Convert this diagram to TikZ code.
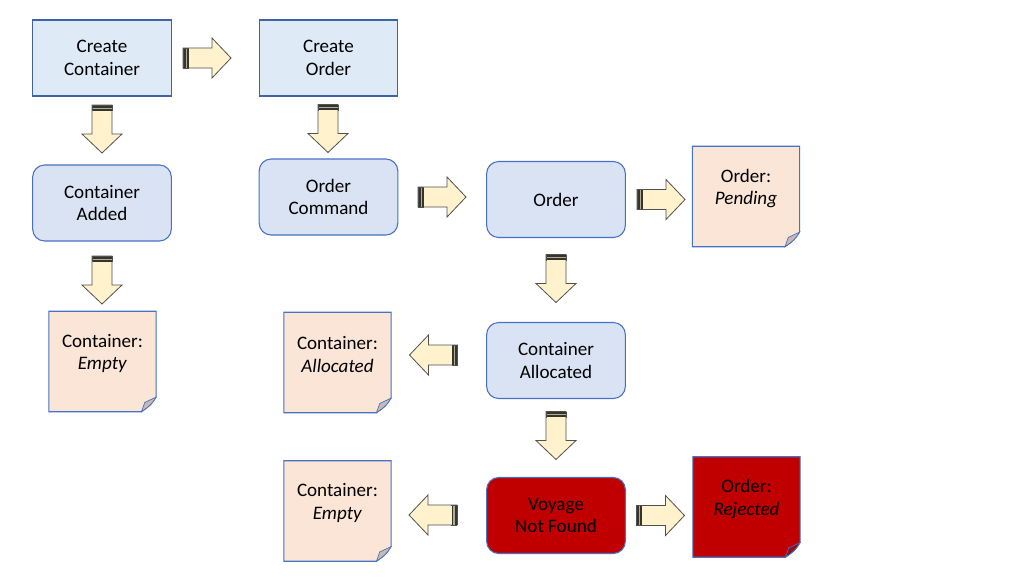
\documentclass[tikz,border=0pt]{standalone}
\usepackage{fontspec}
\setmainfont{Carlito}
\usetikzlibrary{calc}
\definecolor{boxfill}{HTML}{DAE3F3}
\definecolor{sqfill}{HTML}{DEEAF6}
\definecolor{boxline}{HTML}{4472C4}
\definecolor{sqline}{HTML}{3E64A6}
\definecolor{notefill}{HTML}{FBE5D6}
\definecolor{notefold}{HTML}{C9B9B0}
\definecolor{redfill}{HTML}{C00000}
\definecolor{redfold}{HTML}{8E0F1E}
\definecolor{arrfill}{HTML}{FFF2CC}
\definecolor{arrline}{HTML}{505050}
\definecolor{stripedark}{HTML}{35352C}
\definecolor{stripelight}{HTML}{B0AE98}
\tikzset{
  lbl/.style={font=\fontsize{14.3pt}{17pt}\selectfont, align=center, text=black},
  basebox/.style={lbl, line width=0.8pt, minimum width=104pt, minimum height=57pt, inner sep=0pt},
  sqbox/.style={basebox, draw=sqline, fill=sqfill},
  rbox/.style={basebox, draw=boxline, fill=boxfill, rounded corners=9pt},
  redbox/.style={rbox, fill=redfill},
  notebody/.style={lbl, minimum width=80pt, minimum height=75pt, inner sep=0pt},
  noteline/.style={draw=boxline, line width=0.8pt},
  arrbody/.style={fill=arrfill, draw=arrline, line width=0.6pt, line join=miter},
}
\newcommand\notebox[5]{% name, center, text, fill, fold
  \node[notebody] (#1) at #2 {};
  \path[noteline, fill=#4] (#1.north west) -- (#1.north east) -- ([yshift=11pt]#1.south east)
     .. controls ([xshift=-4pt,yshift=5pt]#1.south east) .. ([xshift=-11pt]#1.south east) -- (#1.south west) -- cycle;
  \path[noteline, fill=#5, line width=0.5pt] ([yshift=11pt]#1.south east) -- ([xshift=-8.5pt,yshift=7pt]#1.south east)
     -- ([xshift=-11pt]#1.south east) .. controls ([xshift=-4pt,yshift=5pt]#1.south east) .. cycle;
  \node[lbl] (#1-t) at ([yshift=6pt]#1.center) {#3};
}
\newcommand\blockarrow[3]{% name, center, angle
  \begin{scope}[shift={#2}, rotate=#3]
    \coordinate (#1) at (0,0);
    \draw[arrbody] (-24,-10) -- (5,-10) -- (5,-20) -- (24,0) -- (5,20) -- (5,10) -- (-24,10) -- cycle;
    \fill[stripedark] (-24,-10) rectangle (-21.5,10);
    \fill[stripelight] (-21.5,-10) rectangle (-20.2,10);
    \fill[stripedark] (-20.2,-10) rectangle (-18.5,10);
    \draw[arrline, line width=0.6pt] (-24,-10) -- (-18,-10) (-24,10) -- (-18,10) (-24,-10) -- (-24,10);
  \end{scope}}
\begin{document}
\begin{tikzpicture}[x=0.75pt, y=-0.75pt]
\useasboundingbox[fill=white] (0,0) rectangle (1024,576);
% boxes
\node[sqbox] (cc) at (102,58) {Create\\Container};
\node[sqbox] (co) at (328.5,58) {Create\\Order};
\node[rbox] (ca) at (102,203) {Container\\Added};
\node[rbox] (oc) at (328.5,197) {Order\\Command};
\node[rbox] (ord) at (556,199.5) {Order};
\node[rbox] (cal) at (556,360.5) {Container\\Allocated};
\node[redbox] (vnf) at (556,515.5) {Voyage\\Not Found};
% notes
\notebox{npend}{(746,196.5)}{Order:\\\textit{Pending}}{notefill}{notefold}
\notebox{nempty1}{(102.5,361.5)}{Container:\\\textit{Empty}}{notefill}{notefold}
\notebox{nalloc}{(337.5,362.5)}{Container:\\\textit{Allocated}}{notefill}{notefold}
\notebox{nrej}{(746.5,507)}{Order:\\\textit{Rejected}}{redfill}{redfold}
\notebox{nempty2}{(337.5,511)}{Container:\\\textit{Empty}}{notefill}{notefold}
% arrows
\blockarrow{a1}{(207,58)}{0}
\blockarrow{a2}{(102,129)}{-90}
\blockarrow{a3}{(328,128.5)}{-90}
\blockarrow{a4}{(102,280)}{-90}
\blockarrow{a5}{(442,197)}{0}
\blockarrow{a6}{(661,199.5)}{0}
\blockarrow{a7}{(556,278.5)}{-90}
\blockarrow{a8}{(433.5,355)}{180}
\blockarrow{a9}{(556,435.5)}{-90}
\blockarrow{a10}{(433,515)}{180}
\blockarrow{a11}{(660.5,515.5)}{0}
\end{tikzpicture}
\end{document}
